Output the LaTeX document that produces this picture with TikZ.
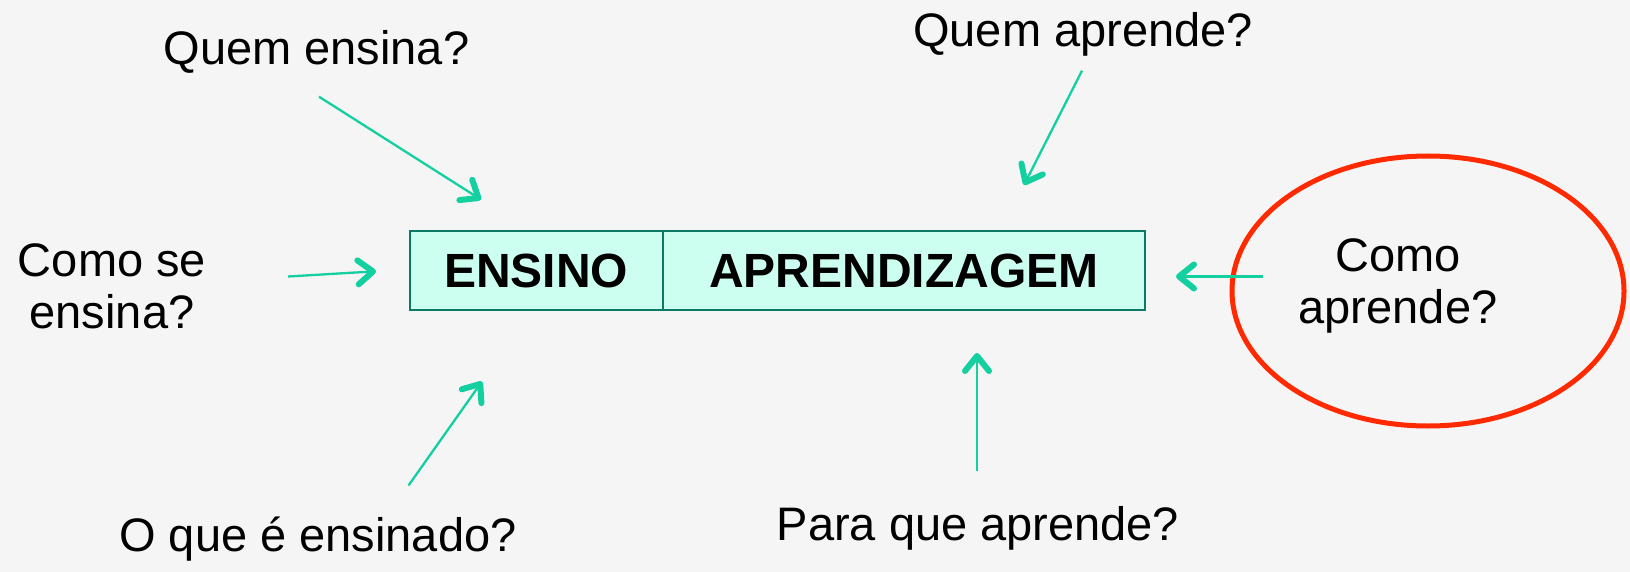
\documentclass[tikz,border=0pt]{standalone}
\usepackage{fontspec}
\setmainfont{Liberation Sans}
\usetikzlibrary{arrows.meta,shapes.geometric}
\definecolor{bgc}{HTML}{F5F5F5}
\definecolor{boxfill}{HTML}{CCFFF0}
\definecolor{boxline}{HTML}{0A7A64}
\definecolor{arrc}{HTML}{14CFA0}
\definecolor{ringc}{HTML}{FF2A00}
\tikzset{
  qtext/.style={font=\fontsize{47}{52}\selectfont, align=center, inner sep=0pt, text=black},
  cell/.style={draw=boxline, line width=2pt, fill=boxfill, minimum height=79pt, inner sep=0pt, anchor=west, font=\fontsize{48}{52}\selectfont\bfseries},
  qarrow/.style={draw=arrc, line width=2.3pt, -{Straight Barb[length=15pt,width=24pt,line width=6pt,round]}},
  ring/.style={draw=ringc, line width=5pt, ellipse, minimum width=392pt, minimum height=270pt, inner sep=0pt}
}
\begin{document}
\begin{tikzpicture}[x=1pt,y=-1pt]
\path[fill=bgc] (0,0) rectangle (1630,572);
\useasboundingbox (0,0) rectangle (1630,572);

% central box
\node[cell, minimum width=253.5pt] (ensino) at (408.5,270.5) {ENSINO};
\node[cell, minimum width=481.5pt] (aprend) at (662,270.5) {APRENDIZAGEM};

% red ellipse
\node[ring] (ring) at (1428,291) {};

% question texts
\node[qtext, anchor=base] (q1) at (316.5,64.5) {Quem ensina?};
\node[qtext, anchor=base] (q2) at (1083,47) {Quem aprende?};
\node[qtext] (q3) at (112,286) {Como se\\ensina?};
\node[qtext] (q6) at (1398,286) {Como\\aprende?};
\node[qtext, anchor=base] (q4) at (318,551) {O que é ensinado?};
\node[qtext, anchor=base] (q5) at (978,540.5) {Para que aprende?};

% arrow end points
\coordinate (a1s) at (319,96.7);   \coordinate (a1e) at (481,199.6);
\coordinate (a2s) at (1082,70.7);  \coordinate (a2e) at (1024,185);
\coordinate (a3s) at (288,276.5);  \coordinate (a3e) at (376,271.3);
\coordinate (a4s) at (408.5,485.5);\coordinate (a4e) at (482,381.5);
\coordinate (a5s) at (977,471);    \coordinate (a5e) at (977,353);
\coordinate (a6s) at (1263,276.5); \coordinate (a6e) at (1176,276.5);

\draw[qarrow] (a1s) -- (a1e);
\draw[qarrow] (a2s) -- (a2e);
\draw[qarrow] (a3s) -- (a3e);
\draw[qarrow] (a4s) -- (a4e);
\draw[qarrow] (a5s) -- (a5e);
\draw[qarrow] (a6s) -- (a6e);
\end{tikzpicture}
\end{document}
